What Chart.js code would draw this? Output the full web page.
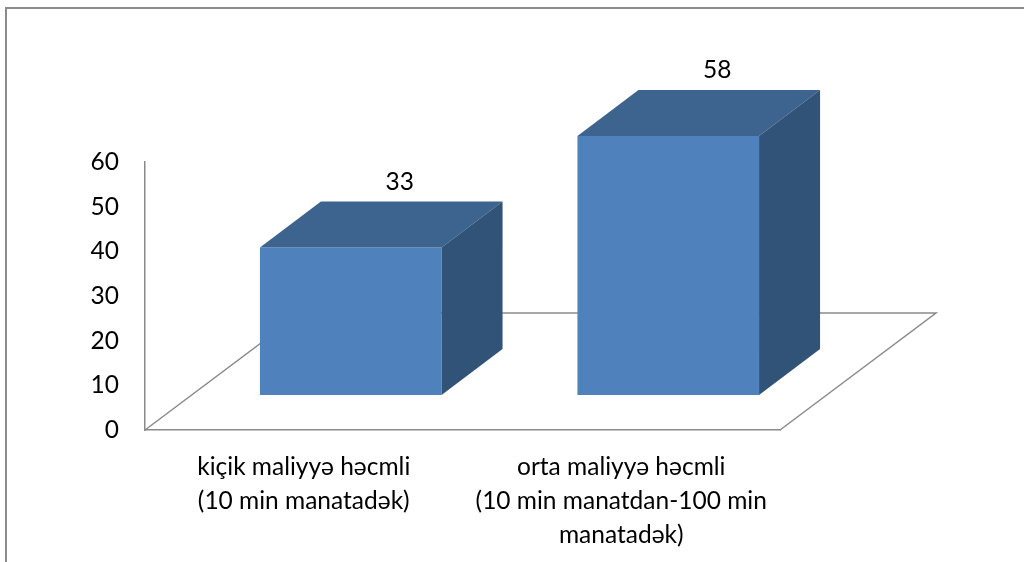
<!DOCTYPE html>
<html>
<head>
<meta charset="utf-8">
<script src="https://cdn.jsdelivr.net/npm/chart.js@4.4.0/dist/chart.umd.min.js"></script>
<style>
  html, body { margin: 0; padding: 0; background: #fff; }
  #wrap { width: 1024px; height: 562px; position: relative; overflow: hidden; }
</style>
</head>
<body>
<div id="wrap"><canvas id="myChart" width="1024" height="562"></canvas></div>
<script>
// data
var categories = [
	['kiçik maliyyə həcmli', '(10 min manatadək)'],
	['orta maliyyə həcmli', '(10 min manatdan-100 min', 'manatadək)']
];
var values = [33, 58];
var yTicks = [0, 10, 20, 30, 40, 50, 60];

// fake 3d look
var shift = { dx: 47, dy: -35 };      // bars sit a bit back on the floor
var depth = { dx: 61, dy: -46 };      // bar depth
var floorDepth = { dx: 156, dy: -117 };
var lineGray = '#8a8a8a';
var fontFam = 'Lato, "Open Sans", sans-serif';
var fontSize = 24.5;

var box3d = {
	id: 'box3d',
	beforeDraw: function(chart) {
		var c = chart.ctx;
		c.save();
		c.fillStyle = '#fff';
		c.fillRect(0, 0, chart.width, chart.height);
		c.strokeStyle = '#8c8c8c';
		c.lineWidth = 2;
		c.strokeRect(6, 8, 1200, 800);
		c.restore();
	},
	beforeDatasetsDraw: function(chart) {
		var c = chart.ctx;
		var a = chart.chartArea;
		c.save();
		c.strokeStyle = lineGray;
		c.lineWidth = 1.5;
		c.beginPath();
		c.moveTo(a.left, a.bottom);
		c.lineTo(a.left + floorDepth.dx, a.bottom + floorDepth.dy);
		c.lineTo(a.right + floorDepth.dx, a.bottom + floorDepth.dy);
		c.lineTo(a.right, a.bottom);
		c.stroke();
		c.restore();
		c.save();
		c.translate(shift.dx, shift.dy);
	},
	afterDatasetsDraw: function(chart) {
		var c = chart.ctx;
		c.restore();
		var meta = chart.getDatasetMeta(0);
		meta.data.forEach(function(bar, i) {
			var p = bar.getProps(['x', 'y', 'base', 'width'], true);
			var l = p.x - p.width / 2 + shift.dx;
			var r = p.x + p.width / 2 + shift.dx;
			var t = p.y + shift.dy;
			var b = p.base + shift.dy;
			c.save();
			// top
			c.fillStyle = '#3d638f';
			c.beginPath();
			c.moveTo(l, t);
			c.lineTo(r, t);
			c.lineTo(r + depth.dx, t + depth.dy);
			c.lineTo(l + depth.dx, t + depth.dy);
			c.closePath();
			c.fill();
			// side
			c.fillStyle = '#325378';
			c.beginPath();
			c.moveTo(r, t);
			c.lineTo(r + depth.dx, t + depth.dy);
			c.lineTo(r + depth.dx, b + depth.dy);
			c.lineTo(r, b);
			c.closePath();
			c.fill();
			// value label
			c.fillStyle = '#000';
			c.font = fontSize + 'px ' + fontFam;
			c.textAlign = 'center';
			c.textBaseline = 'middle';
			c.fillText(String(values[i]), (l + r) / 2 + 49, t + depth.dy - 20);
			c.restore();
		});
	}
};

var ctx = document.getElementById('myChart');
var myChart = new Chart(ctx, {
	type: 'bar',
	data: {
		labels: categories,
		datasets: [{
			data: values,
			backgroundColor: '#4f81bd',
			borderWidth: 0,
			categoryPercentage: 1,
			barPercentage: 0.572
		}]
	},
	options: {
		responsive: false,
		animation: false,
		layout: { padding: { left: 0, top: 162, right: 244, bottom: 0 } },
		plugins: { legend: { display: false }, tooltip: { enabled: false } },
		scales: {
			x: {
				grid: { display: false, drawTicks: false },
				border: { display: true, color: lineGray, width: 1.5 },
				ticks: {
					color: '#000',
					padding: 20,
					maxRotation: 0,
					autoSkip: false,
					font: { family: fontFam, size: fontSize, lineHeight: 1.39 }
				},
				afterFit: function(s) { s.height = 132; }
			},
			y: {
				min: yTicks[0],
				max: yTicks[yTicks.length - 1],
				grid: { display: false, drawTicks: false },
				border: { display: true, color: lineGray, width: 1.5 },
				afterBuildTicks: function(s) {
					s.ticks = yTicks.map(function(v) { return { value: v }; });
				},
				ticks: {
					color: '#000',
					padding: 26,
					font: { family: fontFam, size: fontSize }
				},
				afterFit: function(s) { s.width = 145; }
			}
		}
	},
	plugins: [box3d]
});
</script>
</body>
</html>
